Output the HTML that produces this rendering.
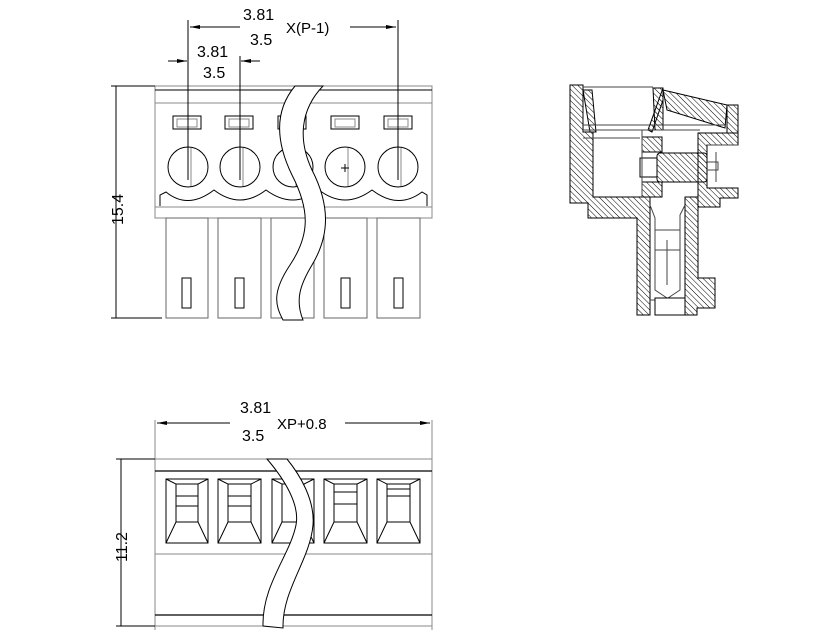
<!DOCTYPE html>
<html><head><style>body{margin:0;background:#fff}svg{display:block}text{font-family:"Liberation Sans",sans-serif;fill:#000}</style></head><body>
<svg width="823" height="635" viewBox="0 0 823 635" xmlns="http://www.w3.org/2000/svg">
<defs>
<pattern id="h" width="4" height="4" patternUnits="userSpaceOnUse" patternTransform="rotate(-45)"><line x1="0" y1="0" x2="0" y2="4" stroke="#000" stroke-width="1"/></pattern>
<marker id="a" markerWidth="10" markerHeight="6" refX="10" refY="3" orient="auto"><path d="M0,1 L10,3 L0,5 Z" fill="#000"/></marker>
</defs>
<g fill="none" stroke="#000" stroke-width="1">
<!-- TOP VIEW -->
<rect x="155" y="86" width="277" height="132" stroke="#888"/>
<line x1="155" y1="90" x2="432" y2="90"/>
<line x1="155" y1="103" x2="432" y2="103" stroke="#888"/>
<line x1="155" y1="207" x2="432" y2="207" stroke="#888"/>
<path d="M160,206 L160,195 L166,192 Q188,210 214,190 Q240,210 266,190 Q293,210 319,190 Q345,210 372,190 Q398,210 422,192 L427,195 L427,206"/>
<g>
<rect x="173" y="116" width="28" height="13"/><rect x="177" y="119" width="20" height="8" stroke="#888"/>
<rect x="225" y="116" width="28" height="13"/><rect x="229" y="119" width="20" height="8" stroke="#888"/>
<rect x="278" y="116" width="28" height="13"/>
<rect x="331" y="116" width="28" height="13"/><rect x="335" y="119" width="20" height="8" stroke="#888"/>
<rect x="384" y="116" width="28" height="13"/><rect x="388" y="119" width="20" height="8" stroke="#888"/>
</g>
<g>
<circle cx="188" cy="167" r="20"/><circle cx="240" cy="167" r="20"/><circle cx="293" cy="167" r="20"/><circle cx="345" cy="167" r="20"/><circle cx="398" cy="167" r="20"/>
<line x1="191" y1="148" x2="191" y2="186" stroke="#888"/><line x1="243" y1="148" x2="243" y2="186" stroke="#888"/><line x1="296" y1="148" x2="296" y2="186" stroke="#888"/><line x1="348" y1="148" x2="348" y2="186" stroke="#888"/><line x1="401" y1="148" x2="401" y2="186" stroke="#888"/>
<line x1="341" y1="168" x2="349" y2="168"/><line x1="345" y1="164" x2="345" y2="172"/>
</g>
<g stroke="#666">
<rect x="166" y="218" width="42" height="100"/><rect x="218" y="218" width="43" height="100"/><rect x="271" y="218" width="43" height="100"/><rect x="324" y="218" width="43" height="100"/><rect x="377" y="218" width="43" height="100"/>
<rect x="182" y="278" width="9" height="30" stroke="#000"/><rect x="235" y="278" width="9" height="30" stroke="#000"/><rect x="288" y="278" width="9" height="30" stroke="#000"/><rect x="341" y="278" width="9" height="30" stroke="#000"/><rect x="394" y="278" width="9" height="30" stroke="#000"/>
</g>
<path d="M295,86 C275,110 275,140 292,175 C310,210 310,235 290,265 C272,292 275,305 283,320 L303,320 C295,300 300,285 312,265 C330,235 330,205 312,170 C298,140 300,110 323,86 Z" fill="#fff" stroke="#000"/>
<!-- top dims -->
<line x1="188" y1="20" x2="188" y2="180"/><line x1="398" y1="20" x2="398" y2="180"/><line x1="240" y1="56" x2="240" y2="180"/>
<line x1="240" y1="27" x2="190" y2="27" marker-end="url(#a)"/><line x1="350" y1="27" x2="396" y2="27" marker-end="url(#a)"/>
<line x1="168" y1="61" x2="187" y2="61" marker-end="url(#a)"/><line x1="260" y1="61" x2="241" y2="61" marker-end="url(#a)"/>
<line x1="116" y1="86" x2="116" y2="318"/><line x1="111" y1="86" x2="155" y2="86"/><line x1="111" y1="318" x2="162" y2="318"/>
<!-- BOTTOM VIEW -->
<line x1="155" y1="420" x2="155" y2="630" stroke="#888"/><line x1="432" y1="420" x2="432" y2="630" stroke="#888"/>
<line x1="230" y1="423" x2="157" y2="423" marker-end="url(#a)"/><line x1="345" y1="423" x2="430" y2="423" marker-end="url(#a)"/>
<line x1="121" y1="459" x2="121" y2="626"/><line x1="116" y1="459" x2="155" y2="459"/><line x1="116" y1="626" x2="155" y2="626"/>
<line x1="155" y1="459" x2="432" y2="459" stroke="#888"/><line x1="155" y1="471" x2="432" y2="471" stroke-width="1.3"/>
<line x1="155" y1="554" x2="432" y2="554" stroke="#888"/><line x1="155" y1="615" x2="432" y2="615" stroke-width="1.3"/><line x1="155" y1="626" x2="432" y2="626" stroke="#888"/>
<g>
<rect x="166" y="479" width="42" height="64"/><path d="M166,479 L176,484 L176,522 L166,543 M208,479 L198,484 L198,522 L208,543 M176,484 L198,484 M176,522 L198,522 M176,496 L198,496 M176,506 L198,506"/>
<rect x="218" y="479" width="43" height="64"/><path d="M218,479 L228,484 L228,522 L218,543 M261,479 L251,484 L251,522 L261,543 M228,484 L251,484 M228,522 L251,522 M228,496 L251,496 M228,506 L251,506"/>
<rect x="272" y="479" width="42" height="64"/><path d="M272,479 L282,484 L282,522 L272,543 M314,479 L304,484 L304,522 L314,543 M282,484 L304,484 M282,522 L304,522"/>
<rect x="324" y="479" width="43" height="64"/><path d="M324,479 L334,484 L334,522 L324,543 M367,479 L357,484 L357,522 L367,543 M334,484 L357,484 M334,522 L357,522 M334,492 L357,492 M334,504 L357,504"/>
<rect x="377" y="479" width="43" height="64"/><path d="M377,479 L387,484 L387,522 L377,543 M420,479 L410,484 L410,522 L420,543 M387,484 L410,484 M387,522 L410,522 M387,496 L410,496 M387,489 L410,489"/>
</g>
<path d="M267,459 C285,480 300,505 296,525 C290,555 262,585 263,626 L283,628 C282,590 310,560 313,525 C315,500 300,475 287,459 Z" fill="#fff"/>
<!-- SIDE VIEW -->
<g fill="url(#h)" stroke="#000">
<path d="M570,85 L583,85 L583,132 L593,132 L593,197 L650,197 L650,315 L637,315 L637,218 L588,218 L588,203 L570,203 Z"/>
<path d="M583,90 L592,90 L596,132 L590,132 Z"/><path d="M653,88 L663,88 L663,130 L655,130 Z"/>
<path d="M663,90 L727,105 L725,128 L667,110 Z"/>
<path d="M648,130 L663,88 L663,100 L652,132 Z"/>
<path d="M727,105 L738,105 L738,133 L727,133 Z"/>
<path d="M698,133 L738,133 L738,145 L707,145 L707,188 L738,188 L738,198 L720,198 L720,207 L698,207 Z"/>
<path d="M685,197 L698,197 L698,278 L715,278 L715,308 L697,308 L697,315 L685,315 Z"/>
<path d="M642,137 L662,137 L662,152 L642,152 Z"/><path d="M642,182 L662,182 L662,197 L642,197 Z"/>
<rect x="657" y="153" width="50" height="29" rx="3"/>
</g>
<rect x="640" y="158" width="17" height="19" fill="#fff"/>
<path d="M583,87 L653,87 M583,125 L725,125 M583,130 L700,130 M583,138 L640,138 M642,130 L642,197 M650,205 L655,218 L655,290 L670,300 M685,205 L680,215 L680,290 L665,300 M655,230 L680,230 M655,250 L680,250 M650,300 L685,300 M655,298 L685,298 M667,240 L667,285 M707,145 L738,145 M716,152 L716,182 M707,162 L718,162 L718,170 L707,170" stroke="#444"/>
<rect x="655" y="298" width="30" height="17" fill="#fff"/>
</g>
<g font-size="16">
<text x="243" y="20">3.81</text><text x="286" y="33" font-size="15">X(P-1)</text><text x="250" y="45">3.5</text>
<text x="197" y="57">3.81</text><text x="203" y="78">3.5</text>
<text x="240" y="413">3.81</text><text x="277" y="429" font-size="15">XP+0.8</text><text x="242" y="441">3.5</text>
<text transform="translate(123,225) rotate(-90)">15.4</text>
<text transform="translate(127,562) rotate(-90)">11.2</text>
</g>
</svg>
</body></html>
